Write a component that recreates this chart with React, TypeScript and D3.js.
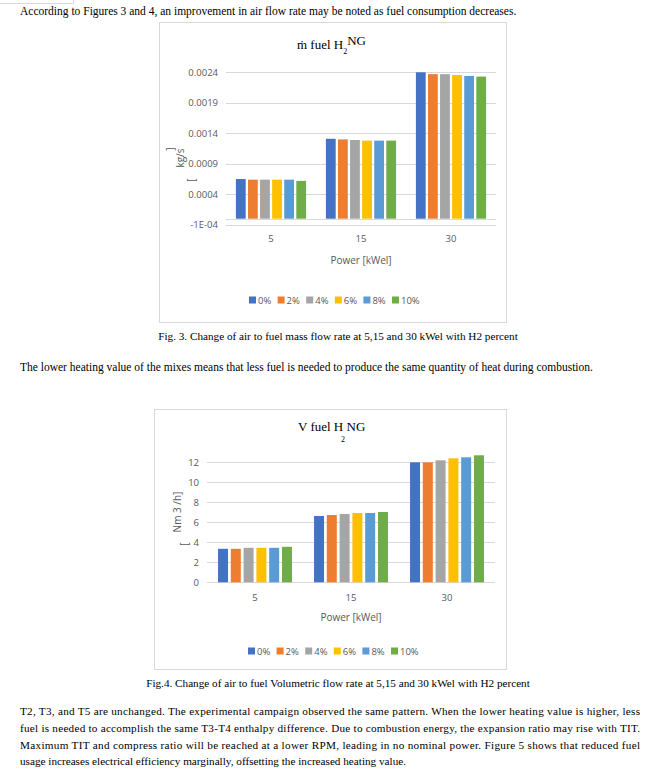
import React from "react";
import * as d3 from "d3";

const categories = ["5", "15", "30"];
const seriesNames = ["0%", "2%", "4%", "6%", "8%", "10%"];
const seriesColors = ["#4472C4", "#ED7D31", "#A5A5A5", "#FFC000", "#5B9BD5", "#70AD47"];

// Fig. 3 — mass flow [kg/s], one array per series, values per category
const massFlow0 = [0.00065, 0.00131, 0.0024];
const massFlow2 = [0.00064, 0.0013, 0.00237];
const massFlow4 = [0.00064, 0.00129, 0.00237];
const massFlow6 = [0.00064, 0.00128, 0.002355];
const massFlow8 = [0.00064, 0.00128, 0.00234];
const massFlow10 = [0.00062, 0.00128, 0.00233];
const massTicks = [-0.0001, 0.0004, 0.0009, 0.0014, 0.0019, 0.0024];
const massTickLabels = ["-1E-04", "0.0004", "0.0009", "0.0014", "0.0019", "0.0024"];

// Fig. 4 — volumetric flow [Nm3/h]
const vol0 = [3.35, 6.63, 12.0];
const vol2 = [3.35, 6.73, 12.0];
const vol4 = [3.45, 6.83, 12.2];
const vol6 = [3.45, 6.93, 12.4];
const vol8 = [3.45, 6.93, 12.5];
const vol10 = [3.55, 7.03, 12.7];
const volTicks = [0, 2, 4, 6, 8, 10, 12];
const volTickLabels = ["0", "2", "4", "6", "8", "10", "12"];

const massSeries = [massFlow0, massFlow2, massFlow4, massFlow6, massFlow8, massFlow10];
const volSeries = [vol0, vol2, vol4, vol6, vol8, vol10];

const SANS = "'Open Sans', 'Liberation Sans', sans-serif";
const SERIF = "'Liberation Serif', 'Times New Roman', 'DejaVu Serif', serif";
const GRID = "#D9D9D9";
const LABEL = "#595959";

type ChartProps = {
  frame: { x: number; y: number; w: number; h: number };
  plotX: [number, number];
  yDomain: [number, number];
  yRange: [number, number];
  ticks: number[];
  tickLabels: string[];
  series: number[][];
  labelX: number;
  catLabelY: number;
  axisTitleY: number;
  legendX: number;
  legendY: number;
  outerPad: number;
  innerPad: number;
  baselineValue: number;
};

function BarChart(p: ChartProps) {
  const x0 = d3.scaleBand<string>().domain(categories).range(p.plotX).paddingInner(p.outerPad).paddingOuter(p.outerPad / 2);
  const x1 = d3.scaleBand<string>().domain(seriesNames).range([0, x0.bandwidth()]).paddingInner(p.innerPad);
  const y = d3.scaleLinear().domain(p.yDomain).range(p.yRange);
  const legendStep = 28.6;
  return (
    <g>
      <rect x={p.frame.x} y={p.frame.y} width={p.frame.w} height={p.frame.h} fill="#fff" stroke={GRID} strokeWidth={1} />
      {p.ticks.map((t, i) => (
        <g key={i}>
          <line x1={p.plotX[0]} x2={p.plotX[1]} y1={Math.round(y(t)) + 0.5} y2={Math.round(y(t)) + 0.5} stroke={GRID} strokeWidth={1} />
          <text x={p.labelX} y={y(t) + 3.5} textAnchor="end" fontFamily={SANS} fontSize={9.5} fill={LABEL}>
            {p.tickLabels[i]}
          </text>
        </g>
      ))}
      <line x1={p.plotX[0]} x2={p.plotX[1]} y1={Math.round(y(p.baselineValue)) + 0.5} y2={Math.round(y(p.baselineValue)) + 0.5} stroke={GRID} strokeWidth={1} />
      {p.series.map((vals, si) =>
        vals.map((v, ci) => {
          const top = y(Math.max(v, p.baselineValue));
          const bot = y(Math.min(v, p.baselineValue));
          return (
            <rect
              key={`${si}-${ci}`}
              x={(x0(categories[ci]) as number) + (x1(seriesNames[si]) as number)}
              y={top}
              width={x1.bandwidth()}
              height={bot - top}
              fill={seriesColors[si]}
            />
          );
        })
      )}
      {categories.map((c) => (
        <text key={c} x={(x0(c) as number) + x0.bandwidth() / 2} y={p.catLabelY} textAnchor="middle" fontFamily={SANS} fontSize={9.5} fill={LABEL}>
          {c}
        </text>
      ))}
      <text x={(p.plotX[0] + p.plotX[1]) / 2} y={p.axisTitleY} textAnchor="middle" fontFamily={SANS} fontSize={10} fill={LABEL}>
        Power [kWel]
      </text>
      {seriesNames.map((s, i) => (
        <g key={s} transform={`translate(${p.legendX + i * legendStep},${p.legendY})`}>
          <rect x={0} y={-3.5} width={7} height={7} fill={seriesColors[i]} />
          <text x={9} y={3.5} fontFamily={SANS} fontSize={9.5} fill={LABEL}>
            {s}
          </text>
        </g>
      ))}
    </g>
  );
}

export default function App() {
  const bodyX = 20;
  const bodyW = 620;
  const para = [
    "T2, T3, and T5 are unchanged. The experimental campaign observed the same pattern. When the lower heating value is higher, less",
    "fuel is needed to accomplish the same T3-T4 enthalpy difference. Due to combustion energy, the expansion ratio may rise with TIT.",
    "Maximum TIT and compress ratio will be reached at a lower RPM, leading in no nominal power. Figure 5 shows that reduced fuel",
    "usage increases electrical efficiency marginally, offsetting the increased heating value.",
  ];
  const paraY = [715, 732, 749, 765];
  return (
    <svg width={655} height={774} style={{ position: "absolute", left: 0, top: 0 }}>
      <rect width={655} height={774} fill="#fff" />
      <path d="M0,3.5 H73.5 V0" fill="none" stroke={GRID} strokeWidth={1} />
      <text x={bodyX} y={15} fontFamily={SERIF} fontSize={11.5} fill="#000">
        According to Figures 3 and 4, an improvement in air flow rate may be noted as fuel consumption decreases.
      </text>

      <BarChart
        frame={{ x: 159.5, y: 22.5, w: 347, h: 300 }}
        plotX={[226, 496]}
        yDomain={[-0.0001, 0.0024]}
        yRange={[224.8, 72.3]}
        ticks={massTicks}
        tickLabels={massTickLabels}
        series={massSeries}
        labelX={218}
        catLabelY={242}
        axisTitleY={264}
        legendX={249}
        legendY={300}
        outerPad={0.22}
        innerPad={0.19}
        baselineValue={0}
      />
      {/* Fig 3 title */}
      <text fontFamily={SERIF} fontSize={13} fill="#000" x={297} y={49}>
        <tspan>ṁ fuel H</tspan>
        <tspan fontSize={8} dy={5}>2</tspan>
        <tspan dy={-9}>NG</tspan>
      </text>
      {/* Fig 3 y title */}
      <text transform="translate(174,149) rotate(-90)" textAnchor="middle" fontFamily={SANS} fontSize={10} fill={LABEL}>]</text>
      <text transform="translate(184,158) rotate(-90)" textAnchor="middle" fontFamily={SANS} fontSize={10} fill={LABEL}>kg/s</text>
      <text transform="translate(195,180) rotate(-90)" textAnchor="middle" fontFamily={SANS} fontSize={10} fill={LABEL}>[</text>

      <text x={338} y={340} textAnchor="middle" fontFamily={SERIF} fontSize={11.2} fill="#000">
        Fig. 3. Change of air to fuel mass flow rate at 5,15 and 30 kWel with H2 percent
      </text>
      <text x={bodyX} y={371} fontFamily={SERIF} fontSize={11.5} fill="#000">
        The lower heating value of the mixes means that less fuel is needed to produce the same quantity of heat during combustion.
      </text>

      <BarChart
        frame={{ x: 154.5, y: 409.5, w: 352, h: 260 }}
        plotX={[207, 495]}
        yDomain={[0, 12]}
        yRange={[582.3, 462.3]}
        ticks={volTicks}
        tickLabels={volTickLabels}
        series={volSeries}
        labelX={199}
        catLabelY={601}
        axisTitleY={621}
        legendX={248}
        legendY={651}
        outerPad={0.23}
        innerPad={0.22}
        baselineValue={0}
      />
      {/* Fig 4 title */}
      <text fontFamily={SERIF} fontSize={13} fill="#000" x={298} y={431}>V fuel H NG</text>
      <text fontFamily={SERIF} fontSize={8} fill="#000" x={341} y={442}>2</text>
      {/* Fig 4 y title */}
      <text transform="translate(181,512) rotate(-90)" textAnchor="middle" fontFamily={SANS} fontSize={10} fill={LABEL}>Nm 3 /h]</text>
      <text transform="translate(188,544) rotate(-90)" textAnchor="middle" fontFamily={SANS} fontSize={10} fill={LABEL}>[</text>

      <text x={338} y={687} textAnchor="middle" fontFamily={SERIF} fontSize={11.2} fill="#000">
        Fig.4. Change of air to fuel Volumetric flow rate at 5,15 and 30 kWel with H2 percent
      </text>
      {para.map((line, i) => (
        <text
          key={i}
          x={bodyX}
          y={paraY[i]}
          fontFamily={SERIF}
          fontSize={11.2}
          fill="#000"
          {...(i < para.length - 1 ? { textLength: bodyW, lengthAdjust: "spacing" } : {})}
        >
          {line}
        </text>
      ))}
    </svg>
  );
}
